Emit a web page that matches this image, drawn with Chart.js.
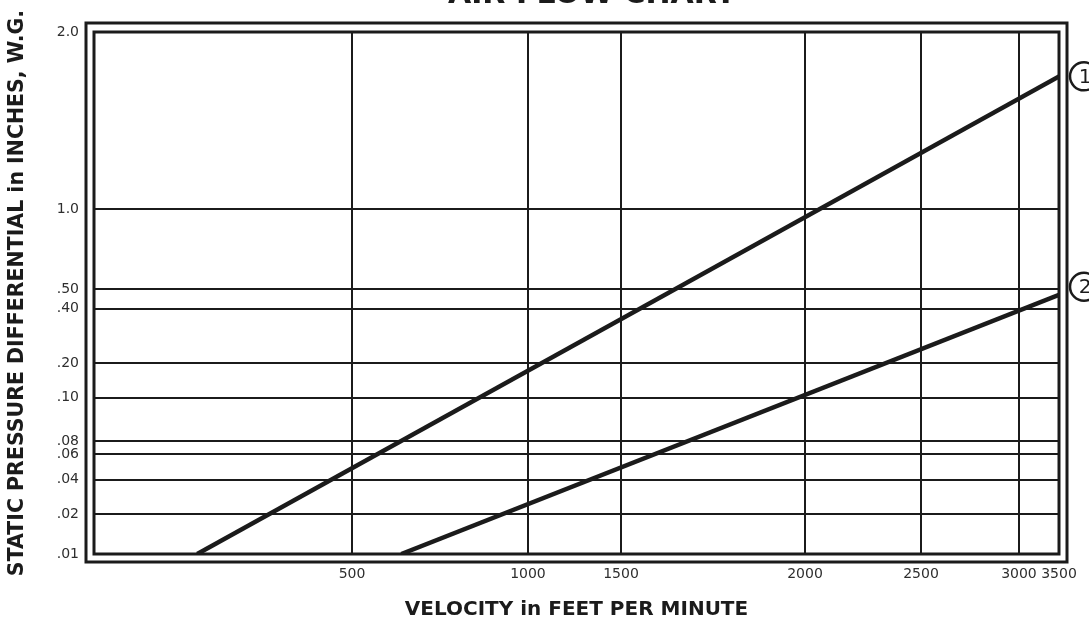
<!DOCTYPE html>
<html><head><meta charset="utf-8">
<script src="https://cdn.jsdelivr.net/npm/chart.js@4.4.0/dist/chart.umd.min.js"></script>
<style>
html,body{margin:0;padding:0;background:#fff;overflow:hidden;width:1089px;height:623px;}
#wrap{position:absolute;left:0;top:-20px;width:1089px;height:643px;}
</style></head><body>
<div id="wrap"><canvas id="c" width="1089" height="643"></canvas></div>
<script>
const chartTitle = 'AIR FLOW CHART';
const xAxisTitle = 'VELOCITY in FEET PER MINUTE';
const yAxisTitle = 'STATIC PRESSURE DIFFERENTIAL in INCHES, W.G.';
const velocityTicks = [500, 1000, 1500, 2000, 2500, 3000, 3500];
const pressureTicks = [0.01, 0.02, 0.04, 0.06, 0.08, 0.10, 0.20, 0.40, 0.50, 1.0, 2.0];
const pressureTickLabels = ['.01', '.02', '.04', '.06', '.08', '.10', '.20', '.40', '.50', '1.0', '2.0'];
const curveNames = ['1', '2'];
const curve1Velocity = [200, 3500];
const curve1Pressure = [0.01, 1.75];
const curve2Velocity = [640, 3500];
const curve2Pressure = [0.01, 0.47];

// the printed chart uses non-uniform axis spacing: stop values and their fraction along each axis
const velocityStops = [0, 500, 1000, 1500, 2000, 2500, 3000, 3500];
const velocityStopFractions = [0, 0.2674, 0.4497, 0.5461, 0.7368, 0.8570, 0.9585, 1];
const pressureStops = [0.01, 0.02, 0.04, 0.06, 0.08, 0.10, 0.20, 0.40, 0.50, 1.0, 2.0];
const pressureStopFractions = [0, 0.0757, 0.1427, 0.1916, 0.2165, 0.2998, 0.3659, 0.4703, 0.5077, 0.6600, 1];

const STOPS = { x: [velocityStops, velocityStopFractions], y: [pressureStops, pressureStopFractions] };
function interp(v, xs, ys) {
  const n = xs.length;
  if (v <= xs[0]) return ys[0] + (v - xs[0]) * (ys[1] - ys[0]) / (xs[1] - xs[0]);
  for (let i = 1; i < n; i++) {
    if (v <= xs[i]) { const t = (v - xs[i - 1]) / (xs[i] - xs[i - 1]); return ys[i - 1] + t * (ys[i] - ys[i - 1]); }
  }
  return ys[n - 1] + (v - xs[n - 1]) * (ys[n - 1] - ys[n - 2]) / (xs[n - 1] - xs[n - 2]);
}
class PiecewiseScale extends Chart.LinearScale {
  getPixelForValue(v) { const s = STOPS[this.id]; return this.getPixelForDecimal(interp(v, s[0], s[1])); }
  getValueForPixel(p) { const s = STOPS[this.id]; return interp(this.getDecimalForPixel(p), s[1], s[0]); }
}
PiecewiseScale.id = 'piecewise';
PiecewiseScale.defaults = Chart.LinearScale.defaults;
Chart.register(PiecewiseScale);

const INK = '#1b1b1b';

const framePlugin = {
  id: 'frame',
  beforeDatasetsDraw(chart) {
    const { left, top, right, bottom } = chart.chartArea;
    const ctx = chart.ctx;
    ctx.save();
    ctx.strokeStyle = INK;
    ctx.lineWidth = 3;
    ctx.strokeRect(left, top, right - left, bottom - top);
    ctx.strokeRect(left - 8, top - 9, right - left + 16, bottom - top + 17);
    ctx.restore();
  }
};
const headingPlugin = {
  id: 'heading',
  afterDraw(chart) {
    const ctx = chart.ctx;
    ctx.save();
    ctx.font = 'bold 30px "DejaVu Sans"';
    ctx.fillStyle = INK;
    ctx.textAlign = 'center';
    ctx.textBaseline = 'alphabetic';
    ctx.fillText(chartTitle, 592, 23);
    ctx.restore();
  }
};
const circlePlugin = {
  id: 'circleLabels',
  afterDraw(chart) {
    const ctx = chart.ctx;
    const dy = [0, -8];
    chart.data.datasets.forEach((ds, i) => {
      const meta = chart.getDatasetMeta(i);
      const pt = meta.data[meta.data.length - 1];
      const cx = pt.x + 25, cy = pt.y + dy[i];
      ctx.save();
      ctx.beginPath();
      ctx.arc(cx, cy, 14, 0, Math.PI * 2);
      ctx.lineWidth = 2.5;
      ctx.strokeStyle = INK;
      ctx.stroke();
      ctx.font = '20px "DejaVu Sans"';
      ctx.fillStyle = INK;
      ctx.textAlign = 'center';
      ctx.textBaseline = 'middle';
      ctx.fillText(ds.label, cx + 1, cy + 1);
      ctx.restore();
    });
  }
};

const tickFont = { family: '"DejaVu Sans"', size: 14 };
const titleFont = { family: '"DejaVu Sans"', size: 20, weight: 'bold' };

new Chart(document.getElementById('c'), {
  type: 'scatter',
  data: {
    datasets: [
      { label: curveNames[0], data: curve1Velocity.map((v, i) => ({ x: v, y: curve1Pressure[i] })) },
      { label: curveNames[1], data: curve2Velocity.map((v, i) => ({ x: v, y: curve2Pressure[i] })) }
    ].map(d => Object.assign(d, { showLine: true, borderColor: INK, backgroundColor: INK, borderWidth: 4.5, pointRadius: 0, tension: 0 }))
  },
  options: {
    responsive: false,
    animation: false,
    devicePixelRatio: 1,
    layout: { padding: { left: 0, top: 52, right: 30, bottom: 0 } },
    plugins: {
      legend: { display: false },
      tooltip: { enabled: false },
      title: { display: false }
    },
    scales: {
      x: {
        type: 'piecewise', min: 0, max: 3500,
        afterBuildTicks: s => { s.ticks = velocityTicks.map(v => ({ value: v })); },
        afterFit: s => { s.height = 69; },
        ticks: { autoSkip: false, maxRotation: 0, padding: 12, color: '#2e2e2e', font: tickFont, callback: v => String(v) },
        grid: { color: INK, lineWidth: 2, drawTicks: false },
        border: { display: false },
        title: { display: true, text: xAxisTitle, color: INK, font: titleFont, padding: { top: 0, bottom: 1 } }
      },
      y: {
        type: 'piecewise', min: 0.01, max: 2.0,
        afterBuildTicks: s => { s.ticks = pressureTicks.map(v => ({ value: v })); },
        afterFit: s => { s.width = 94; },
        ticks: { autoSkip: false, padding: 15, color: '#2e2e2e', font: tickFont, callback: (v, i) => pressureTickLabels[i] },
        grid: { color: INK, lineWidth: 2, drawTicks: false },
        border: { display: false },
        title: { display: true, text: yAxisTitle, color: INK, font: { family: '"DejaVu Sans"', size: 20.5, weight: 'bold' }, padding: { top: 5, bottom: 0 } }
      }
    }
  },
  plugins: [framePlugin, headingPlugin, circlePlugin]
});
</script>
</body></html>
